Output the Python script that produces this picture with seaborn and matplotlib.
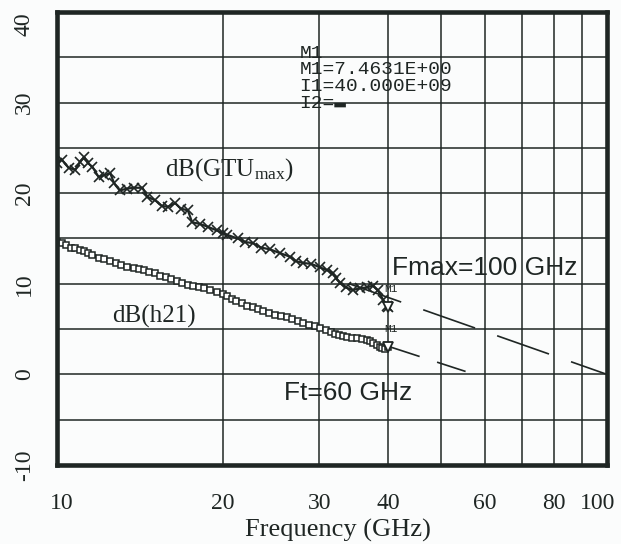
import numpy as np
import pandas as pd
import matplotlib
matplotlib.use("Agg")
import matplotlib.pyplot as plt
import matplotlib.ticker as mticker
import matplotlib.transforms as mtransforms
import seaborn as sns

sns.set_style("white")
plt.rcParams['font.family'] = ['Liberation Serif', 'DejaVu Serif']
plt.rcParams['mathtext.fontset'] = 'custom'
plt.rcParams['mathtext.rm'] = 'Liberation Serif'
plt.rcParams['axes.unicode_minus'] = False

INK = '#1f2624'

# dB(GTUmax) trace
gtu_freq = [10.0, 10.2, 10.5, 10.8, 11.0, 11.2, 11.4, 11.6, 11.9, 12.2, 12.5, 12.7,
            13.0, 13.4, 13.8, 14.3, 14.6, 15.1, 15.5, 15.9, 16.4, 16.8, 17.3, 17.6,
            18.2, 18.8, 19.5, 20.0, 20.4, 21.3, 22.0, 22.7, 23.5, 24.4, 25.4, 26.5,
            27.2, 28.0, 29.0, 30.1, 31.0, 31.7, 32.2, 32.7, 33.5, 34.5, 35.5, 36.6,
            37.5, 38.3, 39.2, 39.8, 40.0]
gtu_db = [23.3, 23.7, 22.8, 22.6, 23.4, 24.0, 23.3, 22.9, 21.8, 22.0, 22.2, 21.1,
          20.3, 20.5, 20.6, 20.6, 19.6, 19.2, 18.6, 18.5, 18.9, 18.3, 18.1, 16.8,
          16.6, 16.3, 15.9, 15.6, 15.4, 15.0, 14.6, 14.5, 14.0, 13.8, 13.4, 13.0,
          12.5, 12.3, 12.2, 11.8, 11.5, 11.2, 10.6, 10.1, 9.6, 9.3, 9.5, 9.6,
          9.8, 9.3, 8.2, 7.6, 7.46]

# dB(h21) trace
h21_freq = [10.0, 10.2, 10.4, 10.6, 10.8, 11.0, 11.2, 11.4, 11.6, 11.9, 12.2, 12.5,
            12.8, 13.1, 13.4, 13.8, 14.1, 14.4, 14.7, 15.1, 15.4, 15.8, 16.1, 16.5,
            16.9, 17.3, 17.7, 18.1, 18.5, 19.0, 19.5, 20.0, 20.4, 20.8, 21.2, 21.7,
            22.2, 22.7, 23.2, 23.7, 24.3, 24.9, 25.5, 26.2, 26.8, 27.4, 28.0, 28.7,
            29.4, 30.1, 30.8, 31.5, 32.0, 32.6, 33.1, 33.7, 34.4, 35.1, 35.8, 36.6,
            37.1, 37.6, 38.1, 38.6, 39.0, 39.5, 40.0]
h21_db = [14.6, 14.5, 14.3, 14.0, 13.9, 13.7, 13.6, 13.4, 13.2, 12.9, 12.7, 12.5,
          12.3, 12.1, 11.9, 11.7, 11.6, 11.5, 11.3, 11.2, 10.9, 10.7, 10.5, 10.3,
          10.1, 9.9, 9.8, 9.6, 9.5, 9.3, 9.1, 8.9, 8.6, 8.3, 8.1, 7.9,
          7.6, 7.4, 7.2, 7.0, 6.8, 6.6, 6.5, 6.3, 6.1, 5.9, 5.7, 5.5,
          5.3, 5.1, 4.9, 4.7, 4.5, 4.3, 4.2, 4.1, 4.0, 4.0, 3.9, 3.8,
          3.7, 3.5, 3.2, 3.0, 2.9, 2.8, 3.0]

# -20 dB/dec extrapolations
fmax_freq = [34.0, 100.0]
fmax_db = [10.0, 0.0]
ft_freq = [40.5, 59.5]
ft_db = [3.0, -0.3]

# marker M1 positions
m1_freq = [40.0, 40.0]
m1_db = [7.46, 3.0]

x_major = [10, 20, 30, 40, 60, 80, 100]
x_minor = [50, 70, 90]
y_major = [-10, 0, 10, 20, 30, 40]
y_minor = [-5, 5, 15, 25, 35]
y_labels = ['-10', '0', '10', '20', '30', '40']

gtu = pd.DataFrame({'f': gtu_freq, 'db': gtu_db})
h21 = pd.DataFrame({'f': h21_freq, 'db': h21_db})

fig = plt.figure(figsize=(6.21, 5.44), dpi=100, facecolor='#fbfcfc')
ax = fig.add_axes([57 / 621, 1 - 465 / 544, 550 / 621, 453 / 544])
ax.set_facecolor('#fbfcfc')

sns.lineplot(data=gtu, x='f', y='db', ax=ax, sort=False, estimator=None,
             color=INK, lw=1.6, marker='x', markersize=6.5, markeredgewidth=1.2,
             markeredgecolor=INK)
sns.lineplot(data=h21, x='f', y='db', ax=ax, sort=False, estimator=None,
             color=INK, lw=2.6, marker='s', markersize=4.2, markeredgewidth=1.1,
             markerfacecolor='white', markeredgecolor=INK)
sns.lineplot(x=fmax_freq, y=fmax_db, ax=ax, color=INK, lw=1.2,
             linestyle=(0, (33, 14)))
sns.lineplot(x=ft_freq, y=ft_db, ax=ax, color=INK, lw=1.2,
             linestyle=(0, (18, 11)))
ax.plot(m1_freq, m1_db, linestyle='none', marker='v', markersize=7,
        markerfacecolor='white', markeredgecolor=INK, markeredgewidth=1.3)
for f, d in zip(m1_freq, m1_db):
    ax.text(f * 1.01, d + 2.0, 'M1', family='Liberation Mono', fontsize=8,
            ha='center', va='center', color=INK)

ax.set_xscale('log')
ax.set_xlim(10, 100)
ax.set_ylim(-10, 40)
ax.xaxis.set_major_locator(mticker.FixedLocator(x_major))
ax.xaxis.set_major_formatter(mticker.FixedFormatter([str(v) for v in x_major]))
ax.xaxis.set_minor_locator(mticker.FixedLocator(x_minor))
ax.xaxis.set_minor_formatter(mticker.NullFormatter())
ax.yaxis.set_major_locator(mticker.FixedLocator(y_major))
ax.yaxis.set_major_formatter(mticker.FixedFormatter(y_labels))
ax.yaxis.set_minor_locator(mticker.FixedLocator(y_minor))

ax.grid(True, which='both', color=INK, lw=1.1)
ax.set_axisbelow(True)
ax.tick_params(axis='both', which='both', length=0, labelsize=17, colors=INK)
ax.tick_params(axis='x', pad=20)
ax.tick_params(axis='y', pad=16, labelrotation=90)
for sp in ax.spines.values():
    sp.set_visible(True)
    sp.set_color(INK)
    sp.set_linewidth(3.3)

fig.canvas.draw()
for lab in ax.get_yticklabels():
    lab.set_va('center')
    if lab.get_text() == '40':
        lab.set_transform(lab.get_transform() +
                          mtransforms.ScaledTranslation(0, -12 / 100, fig.dpi_scale_trans))
for lab in ax.get_xticklabels():
    if lab.get_text() == '100':
        lab.set_transform(lab.get_transform() +
                          mtransforms.ScaledTranslation(-9 / 100, 0, fig.dpi_scale_trans))
    if lab.get_text() == '10':
        lab.set_transform(lab.get_transform() +
                          mtransforms.ScaledTranslation(5 / 100, 0, fig.dpi_scale_trans))

ax.set_xlabel('Frequency (GHz)', fontsize=19, color=INK)
ax.xaxis.set_label_coords(0.511, -0.118)
ax.set_ylabel('')

ax.text(15.7, 22.0, r'$\mathrm{dB(GTU_{max})}$', fontsize=18, color=INK,
        ha='left', va='baseline')
ax.text(12.6, 5.7, 'dB(h21)', fontsize=18, color=INK, ha='left', va='baseline')
ax.text(60.0, 11.7, 'Fmax=100 GHz', family='Liberation Sans', fontsize=19,
        color=INK, ha='center', va='center')
ax.text(33.9, -2.1, 'Ft=60 GHz', family='Liberation Sans', fontsize=19,
        color=INK, ha='center', va='center')
ax.text(27.6, 36.4, 'M1\nM1=7.4631E+00\nI1=40.000E+09\nI2=\u25ac',
        family=['Liberation Mono', 'DejaVu Sans Mono'], fontsize=14,
        color=INK, ha='left', va='top', linespacing=0.98)

fig.savefig('out.png', dpi=100, facecolor=fig.get_facecolor())
